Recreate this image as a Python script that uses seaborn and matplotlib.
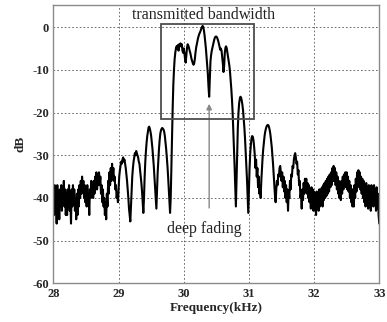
import numpy as np
import pandas as pd
import matplotlib
matplotlib.use("Agg")
import matplotlib.pyplot as plt
from matplotlib.patches import Rectangle
import seaborn as sns

f_start_khz = 28.0
f_step_khz = 0.01

# 28.00 - 28.99 kHz (noise floor)
db_left = [
    -39, -44, -37, -43, -40, -46, -37, -42, -39, -45,
    -38, -42, -37, -43, -39, -41, -36, -42, -38, -44,
    -39, -44, -38, -42, -37, -43, -40, -46, -38, -42,
    -37, -41, -38, -43, -40, -45, -39, -44, -38, -42,
    -37, -40, -36, -39, -35, -38, -36, -40, -37, -41,
    -38, -42, -37, -41, -39, -44, -38, -40, -36, -39,
    -37, -40, -36, -39, -35, -38, -34, -38, -35, -37,
    -34, -37, -35, -39, -37, -41, -38, -42, -40, -44,
    -41, -45, -39, -42, -36, -39, -34, -37, -33, -36,
    -32, -35, -33, -36, -35, -38, -37, -40, -39, -41,
]

# 29.00 - 31.41 kHz (side lobes and main lobe)
db_lobes = [
    -38, -35, -33.5, -32.5, -31.5, -32, -31, -30.5, -31.5, -31,
    -32, -33, -34.5, -36, -38, -40, -42.5, -44, -45.5, -42,
    -38, -35, -33, -31.5, -30.5, -29.5, -30, -29, -29.5, -30,
    -30.5, -31.5, -32, -33.5, -35, -36.5, -38.5, -41, -43.5, -40,
    -35, -31.5, -29, -27, -25.5, -24.5, -23.5, -23.3, -23.8, -24.5,
    -25.5, -27, -28.5, -30.5, -32.5, -35, -37.5, -40, -42.5, -38,
    -34, -31, -28.5, -26.5, -25, -24.2, -23.8, -23.6, -23.8, -24,
    -24.5, -25.5, -27, -28.5, -30.5, -32.5, -35, -38, -41, -43.5,
    -40, -33, -25, -19, -13.5, -10, -7.5, -6, -5, -4.5,
    -5, -4.2, -5.5, -4, -4.5, -3.8, -4.5, -4, -5.5, -6,
    -5, -6, -7.5, -8.3, -6.5, -4.8, -4, -4.3, -4.8, -5.5,
    -6, -6.8, -7.5, -8, -8.5, -8.8, -8.5, -7.5, -6, -4.8,
    -4, -3.2, -2.5, -2, -1.5, -1.2, -0.8, -0.3, 0, 0.3,
    0, -0.8, -2, -3.5, -5, -7, -9, -11, -14, -16.3,
    -12, -8, -6.5, -5.5, -4.8, -4, -3.3, -2.8, -2.4, -2.2,
    -2.2, -2.4, -2.8, -3.3, -4, -4.8, -5.3, -5, -5.5, -7,
    -8.5, -10.5, -9, -6, -4.8, -4.5, -5, -6, -7, -8,
    -9, -10.5, -12.5, -14.5, -17, -20, -24, -28, -32.5, -37,
    -42, -36, -29, -23.5, -20, -17.8, -16.8, -16.3, -16.5, -17.2,
    -18.2, -19.5, -21.5, -23.5, -26, -29, -32, -35.5, -39.5, -43.5,
    -38, -33, -29.5, -27.5, -26, -25.5, -25.7, -26.5, -28, -30,
    -33, -31, -35, -33, -37.5, -35, -39, -37, -40, -36,
    -33, -30.5, -28.5, -27, -25.5, -24.5, -23.8, -23.3, -23, -22.9,
    -23, -23.5, -24.2, -25.2, -26.5, -28, -30, -32, -34.5, -37,
    -39.5, -41,
]

# 31.42 - 33.00 kHz (noise floor)
db_right = [
    -38, -36, -37, -34.5, -35, -33, -32.5, -34,
    -36, -34, -37.5, -35, -38.5, -36, -40, -37, -41, -38,
    -43, -38.5, -40, -36, -38, -34.5, -35, -32.5, -33, -31,
    -30, -29.5, -30.5, -32, -31.5, -34.5, -33.5, -37, -36, -40,
    -39, -42.5, -38, -40.5, -36.5, -39, -35.5, -38.5, -35.5, -39,
    -36.5, -40, -37, -41, -38, -42.5, -37.5, -41, -38, -43,
    -38.5, -42, -39, -44, -38.5, -42.5, -39.5, -43, -38, -42,
    -38, -41.5, -37.5, -42, -37, -40.5, -36.5, -40, -36, -39.5,
    -35.5, -39, -35, -38.5, -34.5, -37.5, -34, -37, -33, -36,
    -32.5, -36, -33, -37, -34, -38, -35, -39, -36, -40,
    -36.5, -40.5, -36, -39, -35, -38, -34.5, -37, -34, -37.5,
    -34, -38, -35, -38.5, -36, -40, -37, -41, -38, -42,
    -38, -42, -37, -40, -35.5, -38.5, -34, -37.5, -33.5, -37,
    -34, -38, -35, -39, -35.5, -40, -36, -41, -37, -42,
    -36.5, -41, -37.5, -42.5, -37, -41.5, -38, -43, -37, -41.5,
    -38, -42, -37, -41, -38.5, -43, -37.5, -42.5, -39, -44,
    -46,
]

x_ticks = [28, 29, 30, 31, 32, 33]
y_ticks = [0, -10, -20, -30, -40, -50, -60]

# annotation data
band_lo_khz, band_hi_khz = 29.65, 31.08
band_lo_db, band_hi_db = -21.6, 0.7
fade_khz, fade_db = 30.39, -17.3
fade_text_db = -43.0

db = np.array(db_left + db_lobes + db_right, dtype=float)
freq = np.round(f_start_khz + f_step_khz * np.arange(len(db)), 2)
df = pd.DataFrame({"Frequency(kHz)": freq, "dB": db})

# ---- style ----
sns.set_style("white")
plt.rcParams["font.family"] = ["Liberation Serif", "DejaVu Serif"]

fig = plt.figure(figsize=(3.87, 3.22), dpi=100)
ax = fig.add_axes([0.138, 0.120, 0.842, 0.864])

sns.lineplot(data=df, x="Frequency(kHz)", y="dB", ax=ax, color="black",
             linewidth=1.5, estimator=None, sort=False)

ax.set_xlim(28, 33)
ax.set_ylim(-60, 5.15)
ax.set_xticks(x_ticks)
ax.set_yticks(y_ticks)
ax.set_xticklabels([str(t) for t in x_ticks], fontsize=9, fontweight="bold")
ax.set_yticklabels([str(t) for t in y_ticks], fontsize=9, fontweight="bold")
ax.tick_params(axis="both", length=0, pad=3)
ax.set_xlabel("Frequency(kHz)", fontsize=9.5, fontweight="bold", labelpad=2)
ax.set_ylabel("dB", fontsize=9.5, fontweight="bold", labelpad=4)

ax.grid(True, color="#555555", linestyle=(0, (2, 2.5)), linewidth=0.6)
ax.set_axisbelow(True)
for s in ax.spines.values():
    s.set_color("#8a8a8a")
    s.set_linewidth(1.0)

ax.add_patch(Rectangle((band_lo_khz, band_lo_db), band_hi_khz - band_lo_khz,
                       band_hi_db - band_lo_db, fill=False,
                       edgecolor="#4d4d4d", linewidth=1.3, zorder=5))
ax.text(30.31, 2.9, "transmitted bandwidth", fontsize=11.5, ha="center",
        va="center", color="#222222")

ax.annotate("", xy=(fade_khz, fade_db), xytext=(fade_khz, fade_text_db),
            arrowprops=dict(arrowstyle="-|>", color="#888888", lw=1.0,
                            mutation_scale=8))
ax.text(30.31, -47.2, "deep fading", fontsize=11.5, ha="center", va="center",
        color="#222222")

fig.savefig("out.png", dpi=100)
